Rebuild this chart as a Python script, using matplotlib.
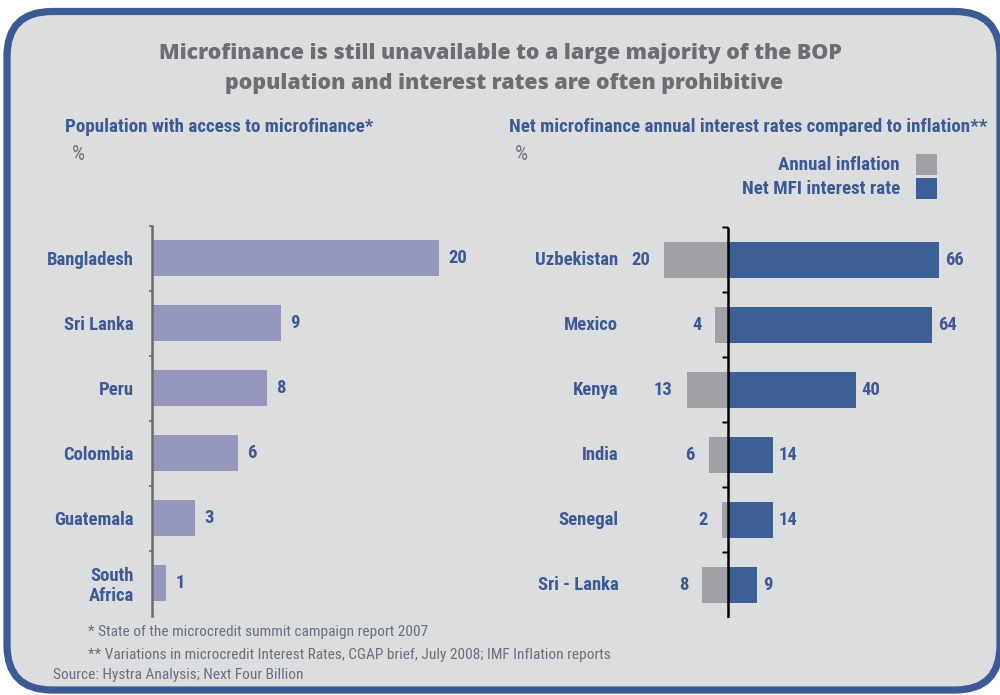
import os
import matplotlib
matplotlib.use("Agg")
import matplotlib.pyplot as plt
import matplotlib.font_manager as fm
from matplotlib.patches import FancyBboxPatch, Rectangle
import numpy as np

# ---------------- data ----------------
title_lines = ["Microfinance is still unavailable to a large majority of the BOP",
               "population and interest rates are often prohibitive"]
left_title = "Population with access to microfinance*"
right_title = "Net microfinance annual interest rates compared to inflation**"

access_countries = ["Bangladesh", "Sri Lanka", "Peru", "Colombia", "Guatemala", "South\nAfrica"]
access_values = [20, 9, 8, 6, 3, 1]

rate_countries = ["Uzbekistan", "Mexico", "Kenya", "India", "Senegal", "Sri - Lanka"]
inflation_values = [20, 4, 13, 6, 2, 8]
interest_values = [66, 64, 40, 14, 14, 9]

legend_labels = ["Annual inflation", "Net MFI interest rate"]
footnotes = ["* State of the microcredit summit campaign report 2007",
             "** Variations in microcredit Interest Rates, CGAP brief, July 2008; IMF Inflation reports"]
source = "Source: Hystra Analysis; Next Four Billion"

# ---------------- style ----------------
BG = "#DCDDDF"
BORDER = "#3C5A96"
BLUE_TXT = "#3D5A97"
GRAY_TXT = "#6D6E71"
FOOT_TXT = "#6A6F7E"
LAV = "#9597BE"
INFL = "#A0A1A5"
RATE = "#3C5F96"


def find_narrow(bold):
    files = {os.path.basename(f.fname).lower(): f.fname for f in fm.fontManager.ttflist}
    if bold:
        prefs = ["liberationsansnarrow-bold.ttf", "robotocondensed-bold.ttf",
                 "notosans-condensedbold.ttf", "notosans-semicondensedbold.ttf",
                 "opensans-condensedbold.ttf", "opensans_condensed-bold.ttf",
                 "dejavusanscondensed-bold.ttf"]
    else:
        prefs = ["liberationsansnarrow-regular.ttf", "robotocondensed-regular.ttf",
                 "notosans-condensed.ttf", "notosans-semicondensed.ttf",
                 "opensans-condensedregular.ttf", "opensans_condensed-regular.ttf",
                 "dejavusanscondensed.ttf"]
    for p in prefs:
        if p in files:
            return fm.FontProperties(fname=files[p])
    return fm.FontProperties(family=["Roboto", "DejaVu Sans"],
                             weight="bold" if bold else "normal")


NB = find_narrow(True)
NR = find_narrow(False)
TB = fm.FontProperties(family=["Open Sans", "DejaVu Sans"], weight="heavy")

W, H = 1000, 695
fig = plt.figure(figsize=(W / 100, H / 100), dpi=100, facecolor="white")
renderer = fig.canvas.get_renderer()


def fitted(fp, text, target_px):
    """font size (pt) giving the reference text width in pixels."""
    f = fp.copy()
    f.set_size(10)
    t = fig.text(0, 0, text, fontproperties=f)
    w = t.get_window_extent(renderer).width
    t.remove()
    return 10 * target_px / w


def with_size(fp, size):
    f = fp.copy()
    f.set_size(size)
    return f


TITLE_FP = with_size(TB, min(fitted(TB, title_lines[0], 686), 17))
SUB_FP = with_size(NB, fitted(NB, left_title, 308))
LAB_FP = with_size(NB, fitted(NB, "Bangladesh", 87))
FOOT_FP = with_size(NR, fitted(NR, footnotes[0], 335))
PCT_FP = with_size(NR, fitted(NR, "%", 13))

# overlay in pixel coordinates
ov = fig.add_axes([0, 0, 1, 1], zorder=0)
ov.set_xlim(0, W)
ov.set_ylim(H, 0)
ov.axis("off")
ov.add_patch(FancyBboxPatch((7, 11.5), 993, 678.5,
                            boxstyle="round,pad=0,rounding_size=45",
                            facecolor=BG, edgecolor=BORDER, linewidth=5.2,
                            clip_on=False))

ov.text(500, 53, title_lines[0], ha="center", va="center", fontproperties=TITLE_FP, color=GRAY_TXT)
ov.text(504, 83, title_lines[1], ha="center", va="center", fontproperties=TITLE_FP, color=GRAY_TXT)
ov.text(65, 127, left_title, ha="left", va="center", fontproperties=SUB_FP, color=BLUE_TXT)
ov.text(509, 127, right_title, ha="left", va="center", fontproperties=SUB_FP, color=BLUE_TXT)
ov.text(72, 155, "%", ha="left", va="center", fontproperties=PCT_FP, color=GRAY_TXT)
ov.text(515, 155, "%", ha="left", va="center", fontproperties=PCT_FP, color=GRAY_TXT)

# legend
for i, (lab, col) in enumerate(zip(legend_labels, [INFL, RATE])):
    yc = 164.5 + i * 24
    ov.add_patch(Rectangle((916, yc - 10.5), 21, 21, facecolor=col, edgecolor="none"))
    ov.text(900, yc, lab, ha="right", va="center", fontproperties=SUB_FP, color=BLUE_TXT)

ov.text(88, 632, footnotes[0], ha="left", va="center", fontproperties=FOOT_FP, color=FOOT_TXT)
ov.text(88, 655, footnotes[1], ha="left", va="center", fontproperties=FOOT_FP, color=FOOT_TXT)
ov.text(53, 675, source, ha="left", va="center", fontproperties=FOOT_FP, color=FOOT_TXT)


def px_axes(x0, x1, y0, y1):
    return fig.add_axes([x0 / W, 1 - y1 / H, (x1 - x0) / W, (y1 - y0) / H], zorder=1)


# ---------------- left chart ----------------
y = np.arange(len(access_countries))
axL = px_axes(152, 482, 225.5, 615.5)
axL.set_facecolor("none")
axL.barh(y, access_values, height=0.56, color=LAV, zorder=2)
axL.set_xlim(0, 330 / 14.35)
axL.set_ylim(len(y) - 0.5, -0.5)
for s in ["top", "right", "bottom"]:
    axL.spines[s].set_visible(False)
axL.spines["left"].set_color("#6B6B6B")
axL.spines["left"].set_linewidth(1.8)
axL.set_xticks([])
axL.set_yticks(y)
axL.set_yticklabels(access_countries, fontproperties=LAB_FP, color=BLUE_TXT,
                    ha="right", linespacing=1.15)
axL.tick_params(axis="y", which="major", length=0, pad=13)
axL.set_yticks(np.arange(-0.5, len(y) - 0.5, 1.0), minor=True)
axL.tick_params(axis="y", which="minor", length=2.5, width=1.2, color="#6B6B6B")
for yi, v in zip(y, access_values):
    axL.annotate(str(v), (v, yi), xytext=(6.5, 0), textcoords="offset points",
                 ha="left", va="center", fontproperties=LAB_FP, color=BLUE_TXT)

# ---------------- right chart ----------------
y2 = np.arange(len(rate_countries))
scale = 3.19
axR = px_axes(640, 990, 227.5, 617.5)
axR.set_facecolor("none")
axR.barh(y2, [-v for v in inflation_values], height=0.56, color=INFL, zorder=2)
axR.barh(y2, interest_values, height=0.56, color=RATE, zorder=2)
axR.set_xlim((640 - 728) / scale, (990 - 728) / scale)
axR.set_ylim(len(y2) - 0.5, -0.5)
for s in ["top", "right", "bottom", "left"]:
    axR.spines[s].set_visible(False)
axR.axvline(0, color="black", linewidth=1.8, zorder=3)
axR.set_xticks([])
axR.set_yticks([])
for b in np.arange(-0.5, len(y2) - 0.5, 1.0):
    axR.annotate("", xy=(0, b), xytext=(-3.5, 0), textcoords="offset points",
                 arrowprops=dict(arrowstyle="-", color="black", lw=1.4, shrinkA=0, shrinkB=0))
for yi, name, inf, rate in zip(y2, rate_countries, inflation_values, interest_values):
    axR.annotate(name, (0, yi), xytext=(-79, 0), textcoords="offset points",
                 ha="right", va="center", fontproperties=LAB_FP, color=BLUE_TXT)
    axR.annotate(str(inf), (-inf, yi), xytext=(-10, 0), textcoords="offset points",
                 ha="right", va="center", fontproperties=LAB_FP, color=BLUE_TXT)
    axR.annotate(str(rate), (rate, yi), xytext=(4.5, 0), textcoords="offset points",
                 ha="left", va="center", fontproperties=LAB_FP, color=BLUE_TXT)

fig.savefig("out.png", dpi=100, facecolor="white")
